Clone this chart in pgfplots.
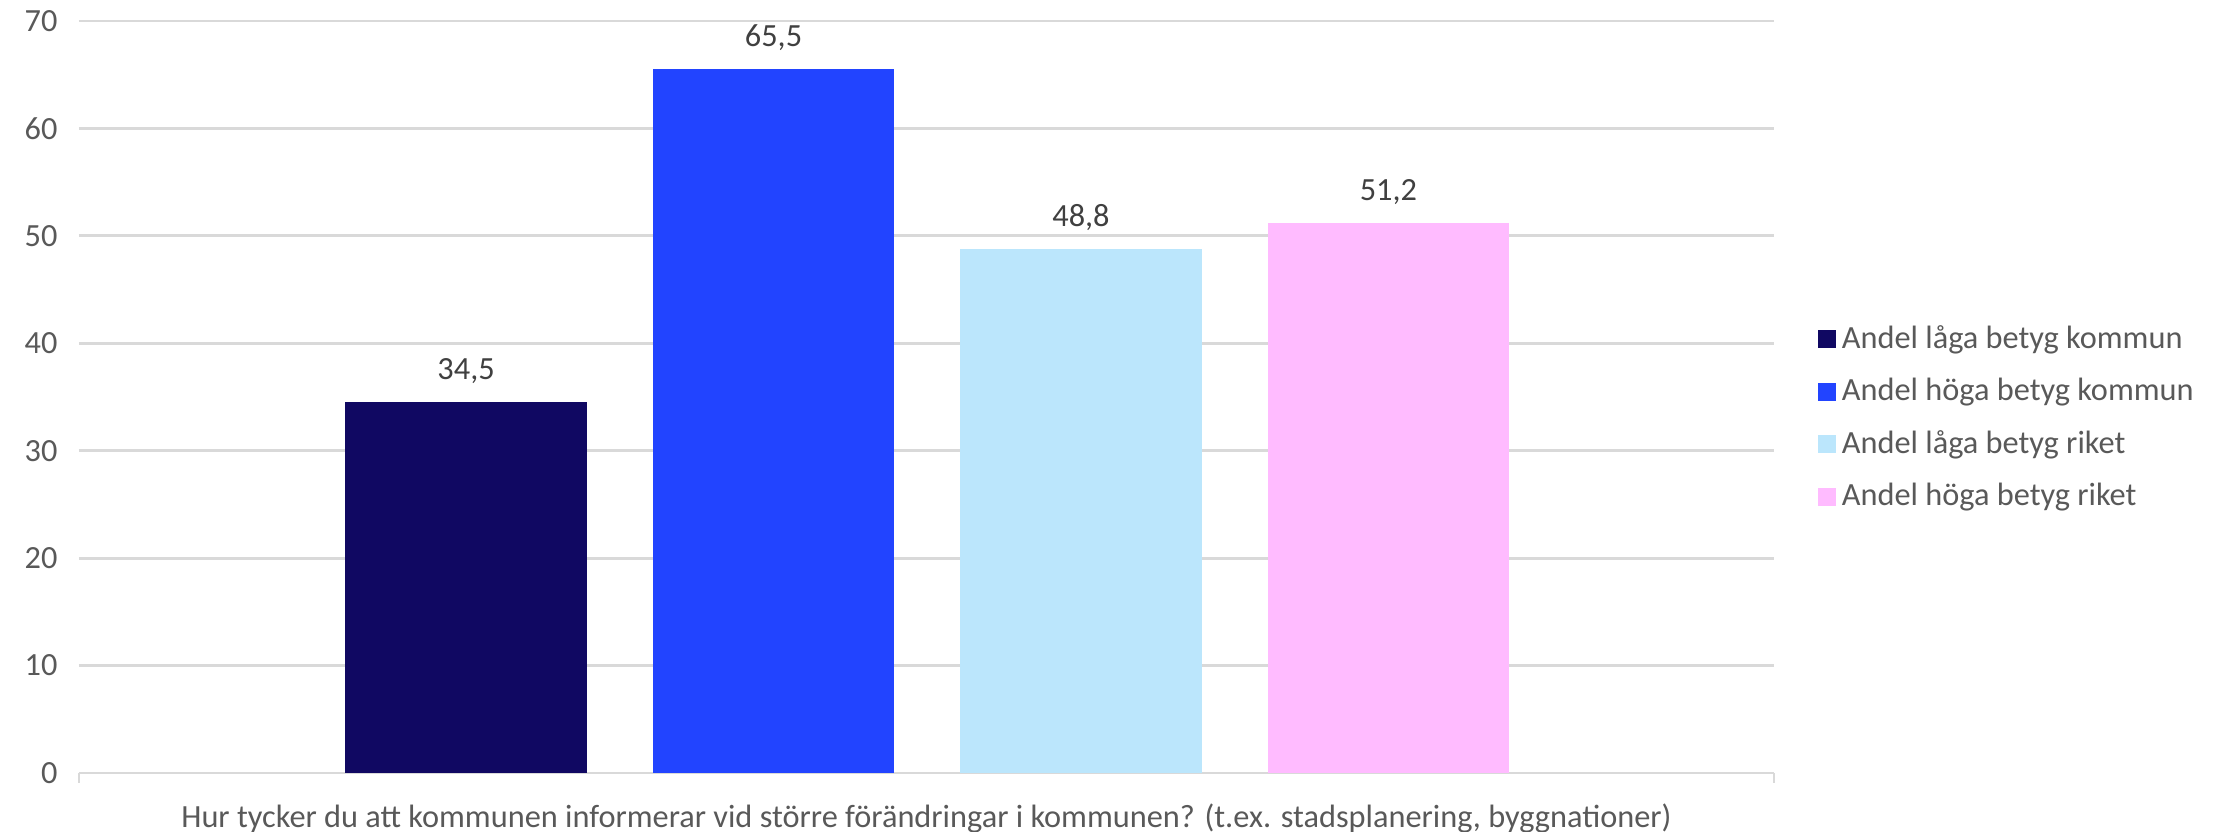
\documentclass[border=0pt]{standalone}
\usepackage{pgfplots}
\pgfplotsset{compat=1.18}
\usepackage{fontspec}
\setmainfont{Carlito}
\definecolor{c1}{HTML}{100862}
\definecolor{c2}{HTML}{2244FF}
\definecolor{c3}{HTML}{BBE6FC}
\definecolor{c4}{HTML}{FFBBFF}
\definecolor{gridc}{HTML}{D9D9D9}
\definecolor{tickc}{HTML}{595959}
\definecolor{labc}{HTML}{404040}
\begin{document}
\fontsize{9.2pt}{11pt}\selectfont
\begin{tikzpicture}
\path[use as bounding box] (-0.79cm,-0.59cm) rectangle (21.40cm,7.73cm);
\begin{axis}[
  at={(0,0)}, anchor=south west,
  scale only axis, width=16.95cm, height=7.52cm,
  xmin=-0.259, xmax=5.254, ymin=0, ymax=70,
  ytick={0,10,...,70},
  xtick={-0.259,5.254}, xticklabels={},
  axis line style={draw=none},
  axis x line*=bottom, axis y line*=left,
  x axis line style={draw=gridc, line width=0.8pt},
  ymajorgrids, grid style={draw=gridc, line width=0.8pt},
  y tick style={draw=none}, ytick style={draw=none},
  x tick style={draw=gridc, line width=0.8pt},
  xtick align=outside, major tick length=0.1cm,
  yticklabel style={font=\fontsize{9.2pt}{11pt}\selectfont, text=tickc, xshift=-0.1cm},
  /pgf/number format/assume math mode=true,
  xlabel={Hur tycker du att kommunen informerar vid större förändringar i kommunen? (t.ex. stadsplanering, byggnationer)},
  xlabel style={font=\fontsize{9.2pt}{11pt}\selectfont, text=tickc, at={(axis description cs:0.5,0)}, anchor=center, yshift=-0.45cm},
  ybar, bar width=0.785, bar shift=0pt,
  nodes near coords,
  nodes near coords style={font=\fontsize{9.2pt}{11pt}\selectfont, text=labc, anchor=south, yshift=0.07cm,
    /pgf/number format/.cd, fixed, precision=1, fixed zerofill, use comma},
  legend style={at={(1.0255,0.472)}, anchor=west, draw=none, fill=none,
    font=\fontsize{9.2pt}{11pt}\selectfont, text=tickc,
    row sep=0.13cm, inner sep=0pt,
    nodes={inner sep=0.06cm}},
  legend cell align=left,
  legend image code/.code={\fill[#1,draw=none] (0cm,-0.09cm) rectangle (0.18cm,0.09cm);},
]
\addplot[fill=c1, draw=none] coordinates {(1,34.5)};
\addlegendentry{Andel låga betyg kommun}
\addplot[fill=c2, draw=none] coordinates {(2,65.5)};
\addlegendentry{Andel höga betyg kommun}
\addplot[fill=c3, draw=none] coordinates {(3,48.8)};
\addlegendentry{Andel låga betyg riket}
\addplot[fill=c4, draw=none] coordinates {(4,51.2)};
\addlegendentry{Andel höga betyg riket}
\end{axis}
\end{tikzpicture}
\end{document}
